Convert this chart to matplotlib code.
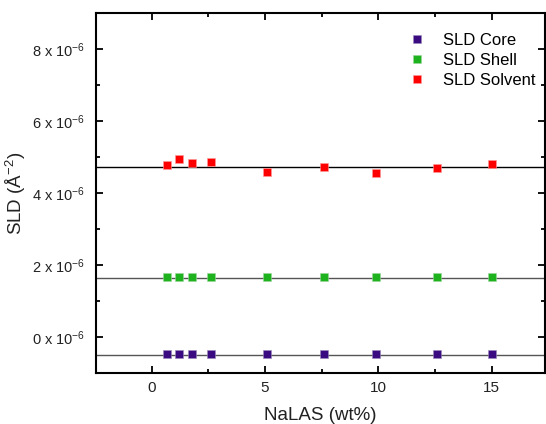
import matplotlib
matplotlib.use('Agg')
import matplotlib.pyplot as plt
from matplotlib.ticker import FixedLocator, FixedFormatter

plt.rcParams['font.family'] = ['Liberation Sans', 'DejaVu Sans']
plt.rcParams['mathtext.fontset'] = 'custom'
plt.rcParams['mathtext.rm'] = 'Liberation Sans'
plt.rcParams['mathtext.it'] = 'Liberation Sans:italic'
plt.rcParams['mathtext.bf'] = 'Liberation Sans:bold'
plt.rcParams['mathtext.default'] = 'rm'

# NaLAS concentration (wt%)
nalas = [0.7, 1.2, 1.8, 2.6, 5.1, 7.6, 9.9, 12.6, 15.0]

# fitted scattering length densities (A^-2)
sld_core = [-0.46e-6] * 9
sld_shell = [1.67e-6] * 9
sld_solvent = [4.77e-6, 4.94e-6, 4.83e-6, 4.86e-6, 4.57e-6, 4.71e-6, 4.55e-6, 4.70e-6, 4.80e-6]

# mean values drawn as horizontal guides
mean_core = -0.49e-6
mean_shell = 1.65e-6
mean_solvent = 4.72e-6

ytick_vals = [0, 2e-6, 4e-6, 6e-6, 8e-6]
ytick_labels = ['0 x 10$^{-6}$', '2 x 10$^{-6}$', '4 x 10$^{-6}$',
                '6 x 10$^{-6}$', '8 x 10$^{-6}$']

fig = plt.figure(figsize=(5.46, 4.24), dpi=100)
ax = fig.add_axes([0.176, 0.120, 0.822, 0.850])

ax.axhline(mean_solvent, color='black', linewidth=1.0, zorder=1)
ax.axhline(mean_shell, color='#555555', linewidth=1.0, zorder=1)
ax.axhline(mean_core, color='#555555', linewidth=1.0, zorder=1)

ms = 6
ax.plot(nalas, sld_core, 's', color='#3a0a80', markersize=ms, markeredgewidth=0.4,
        markeredgecolor='#9a8aba', label='SLD Core', zorder=3)
ax.plot(nalas, sld_shell, 's', color='#1fb21f', markersize=ms, markeredgewidth=0.4,
        markeredgecolor='#9ad69a', label='SLD Shell', zorder=3)
ax.plot(nalas, sld_solvent, 's', color='#ff0000', markersize=ms, markeredgewidth=0.4,
        markeredgecolor='#ff9a9a', label='SLD Solvent', zorder=3)

ax.set_xlim(-2.45, 17.35)
ax.set_ylim(-1e-6, 9e-6)

ax.xaxis.set_major_locator(FixedLocator([0, 5, 10, 15]))
ax.xaxis.set_minor_locator(FixedLocator([2.5, 7.5, 12.5]))
ax.yaxis.set_major_locator(FixedLocator(ytick_vals))
ax.yaxis.set_major_formatter(FixedFormatter(ytick_labels))
ax.yaxis.set_minor_locator(FixedLocator([-1e-6, 1e-6, 3e-6, 5e-6, 7e-6]))

ax.tick_params(which='both', direction='in', top=True, right=True, width=1.3,
               colors='black', labelcolor='#222222')
ax.tick_params(which='major', length=5, labelsize=11, pad=6)
ax.tick_params(which='minor', length=3)
ax.tick_params(axis='y', labelsize=10.5, pad=8)
for s in ax.spines.values():
    s.set_linewidth(1.5)

ax.set_xlabel('NaLAS (wt%)', fontsize=13.5, color='#222222', labelpad=8)
ax.set_ylabel('SLD (Å$^{-2}$)', fontsize=13.5, color='#222222', labelpad=3)

ax.legend(loc='upper right', bbox_to_anchor=(1.012, 0.985), frameon=False,
          fontsize=12, labelspacing=0.3, handletextpad=0.55, markerscale=0.95)

fig.savefig('out.png', dpi=100)
